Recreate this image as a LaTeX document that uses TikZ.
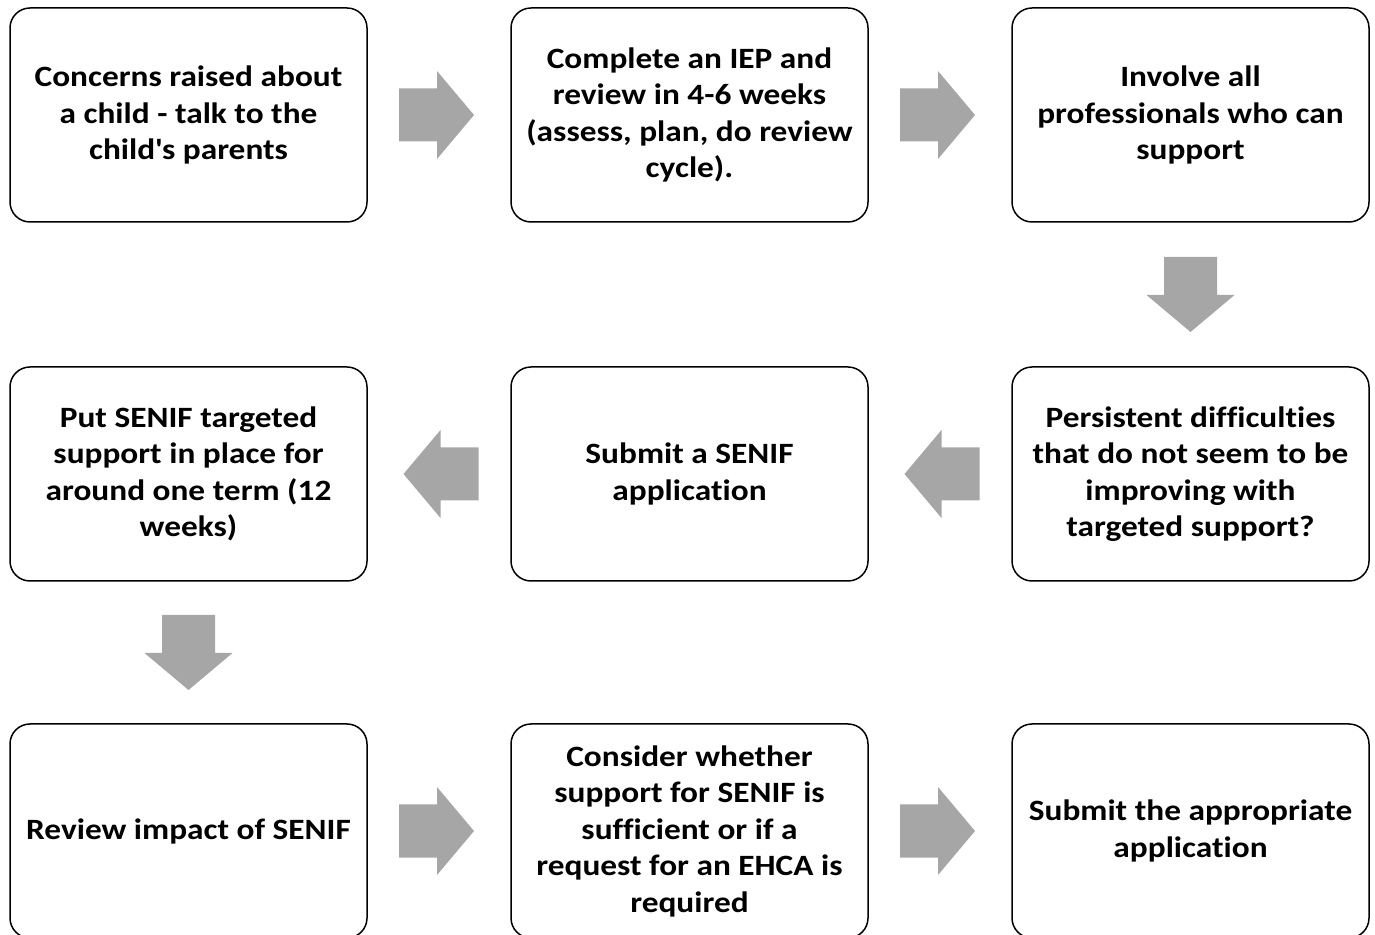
\documentclass[tikz,border=0pt]{standalone}
\usepackage{fontspec}
\setmainfont{Carlito}[FakeStretch=1.13, Ligatures=NoCommon]
\usetikzlibrary{positioning, calc}
\definecolor{arrowgray}{RGB}{166,166,166}
\newcommand{\blockarrow}[2]{%
  \fill[arrowgray, shift={#1}, rotate=#2]
    (-37.5,-26.5) -- (0.5,-26.5) -- (0.5,-44) -- (37.5,0)
    -- (0.5,44) -- (0.5,26.5) -- (-37.5,26.5) -- cycle;}

\begin{document}
\begin{tikzpicture}[x=1pt, y=1pt,
    stepbox/.style={draw, line width=1.5pt, rounded corners=20pt, fill=white,
      minimum width=357pt, minimum height=214pt, align=center,
      font=\bfseries\fontsize{29.5}{36.5}\selectfont},
    node distance=142.5pt and 142.5pt]
    \useasboundingbox (0,0) rectangle (1375,934);
    % top row
    \node[stepbox] (concerns) at (188.5,819) {Concerns raised about\\a child - talk to the\\child\textquotesingle s parents};
    \node[stepbox, right=of concerns] (iep) {Complete an IEP and\\review in 4-6 weeks\\(assess, plan, do review\\cycle).};
    \node[stepbox, right=of iep] (involve) {Involve all\\professionals who can\\support};
    % middle row
    \node[stepbox, below=143.5pt of involve] (persist) {Persistent difficulties\\that do not seem to be\\improving with\\targeted support?};
    \node[stepbox, left=of persist] (submit) {Submit a SENIF\\application};
    \node[stepbox, left=of submit] (senif) {Put SENIF targeted\\support in place for\\around one term (12\\weeks)};
    % bottom row
    \node[stepbox, below=141.5pt of senif] (review) {Review impact of SENIF};
    \node[stepbox, right=of review] (consider) {Consider whether\\support for SENIF is\\sufficient or if a\\request for an EHCA is\\required};
    \node[stepbox, right=of consider] (appl) {Submit the appropriate\\application};

    \blockarrow{($(concerns.east)!0.5!(iep.west)+(-2.5,0)$)}{0}
    \blockarrow{($(iep.east)!0.5!(involve.west)+(-2.5,0)$)}{0}
    \blockarrow{($(involve.south)!0.5!(persist.north)$)}{-90}
    \blockarrow{($(persist.west)!0.5!(submit.east)+(2,0)$)}{180}
    \blockarrow{($(submit.west)!0.5!(senif.east)+(2,0)$)}{180}
    \blockarrow{($(senif.south)!0.5!(review.north)$)}{-90}
    \blockarrow{($(review.east)!0.5!(consider.west)+(-2.5,0)$)}{0}
    \blockarrow{($(consider.east)!0.5!(appl.west)+(-2.5,0)$)}{0}
\end{tikzpicture}
\end{document}
